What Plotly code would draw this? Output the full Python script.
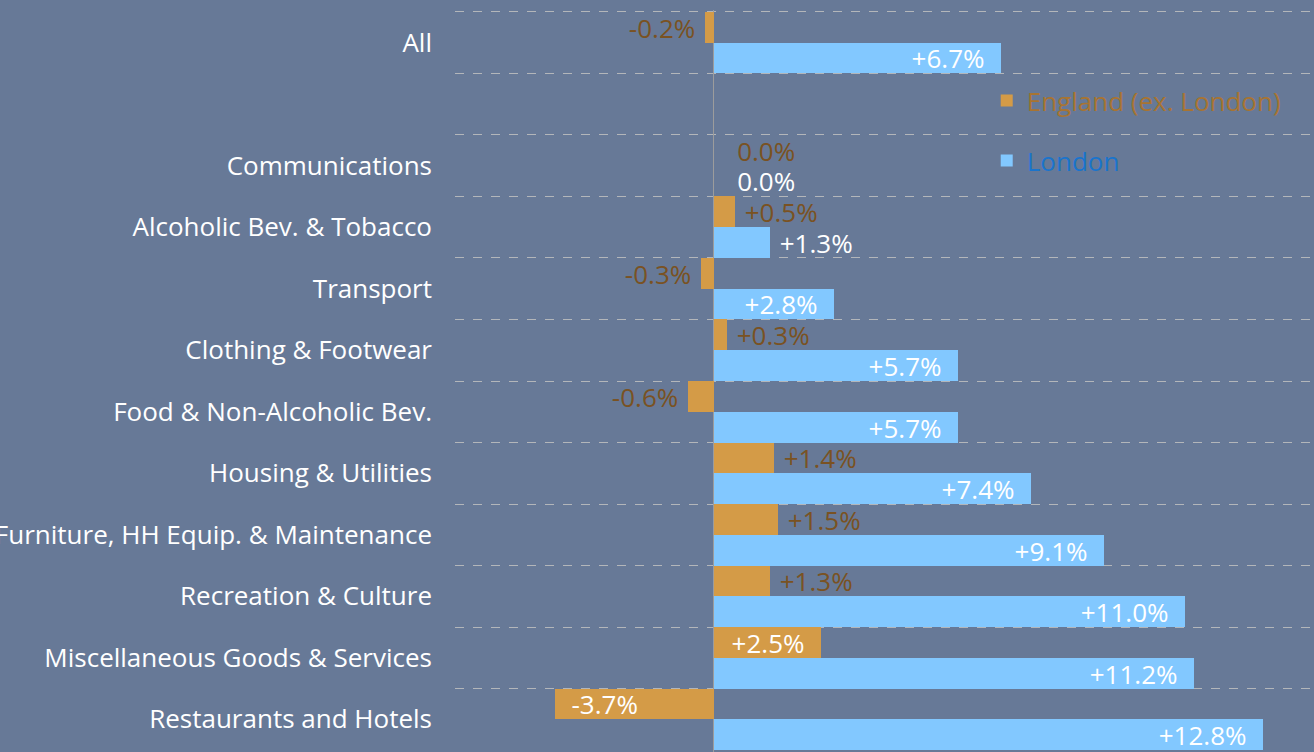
import plotly.graph_objects as go

categories = ["All", " ", "Communications", "Alcoholic Bev. & Tobacco", "Transport",
              "Clothing & Footwear", "Food & Non-Alcoholic Bev.", "Housing & Utilities",
              "Furniture, HH Equip. & Maintenance", "Recreation & Culture",
              "Miscellaneous Goods & Services", "Restaurants and Hotels"]
england = [-0.2, None, 0.0, 0.5, -0.3, 0.3, -0.6, 1.4, 1.5, 1.3, 2.5, -3.7]
london = [6.7, None, 0.0, 1.3, 2.8, 5.7, 5.7, 7.4, 9.1, 11.0, 11.2, 12.8]

_BG, _ORANGE, _BLUE = "#677997", "#d49b47", "#82c8ff"
_BROWN, _GRID, _FONT = "#7a5222", "#b3b6ba", "'Open Sans', sans-serif"
NB = "\u00a0"
FS = 26


def _label(v):
    if v is None:
        return ""
    if v == 0:
        return "0.0%"
    return f"{v:+.1f}%"


def _texts(vals, inside):
    """Bar labels: big bars get the label inside at the end, small ones outside."""
    out, pos = [], []
    for v in vals:
        t = _label(v)
        if v is None:
            pos.append("outside")
        elif abs(v) >= inside:
            t = t + NB * 2 if v > 0 else NB * 2 + t
            pos.append("inside")
        else:
            if v == 0:
                t = NB * 3 + t
            else:
                t = NB + t if v > 0 else t + NB
            pos.append("outside")
        out.append(t)
    return out, pos


eng_text, eng_pos = _texts(england, 2.0)
lon_text, lon_pos = _texts(london, 2.0)

fig = go.Figure()
fig.add_trace(go.Bar(y=categories, x=england, orientation="h", name="England (ex. London)",
                     marker=dict(color=_ORANGE, line=dict(width=0)),
                     text=eng_text, textposition=eng_pos, insidetextanchor="end",
                     textangle=0, cliponaxis=False, constraintext="none",
                     insidetextfont=dict(color="white", size=FS, family=_FONT),
                     outsidetextfont=dict(color=_BROWN, size=FS, family=_FONT),
                     legend="legend", hoverinfo="skip"))
fig.add_trace(go.Bar(y=categories, x=london, orientation="h", name="London",
                     marker=dict(color=_BLUE, line=dict(width=0)),
                     text=lon_text, textposition=lon_pos, insidetextanchor="end",
                     textangle=0, cliponaxis=False, constraintext="none",
                     insidetextfont=dict(color="white", size=FS, family=_FONT),
                     outsidetextfont=dict(color="white", size=FS, family=_FONT),
                     legend="legend2", hoverinfo="skip"))

fig.update_layout(
    width=1314, height=752, paper_bgcolor=_BG, plot_bgcolor=_BG,
    margin=dict(l=455, r=0, t=10, b=0),
    barmode="group", bargap=0, bargroupgap=0, showlegend=True,
    font=dict(family=_FONT, size=FS, color="white"),
    legend=dict(x=0.619, y=0.878, xanchor="left", yanchor="middle",
                bgcolor="rgba(0,0,0,0)", font=dict(color="#a87431", size=FS)),
    legend2=dict(x=0.619, y=0.797, xanchor="left", yanchor="middle",
                 bgcolor="rgba(0,0,0,0)", font=dict(color="#1a74cc", size=FS)),
)
fig.update_yaxes(type="category", range=[11.53, -0.53], tickson="boundaries",
                 showgrid=True, gridcolor=_GRID, griddash="dash", gridwidth=1,
                 ticks="", ticklabelstandoff=22, showline=False, automargin=False,
                 tickfont=dict(color="white", size=FS))
fig.update_xaxes(range=[-6.04, 14.0], showgrid=False, showticklabels=False,
                 zeroline=True, zerolinecolor="#9c9c9c", zerolinewidth=1, ticks="",
                 automargin=False)

fig.write_html("out.html", config={"displayModeBar": False},
               post_script="document.body.style.margin='0';")
